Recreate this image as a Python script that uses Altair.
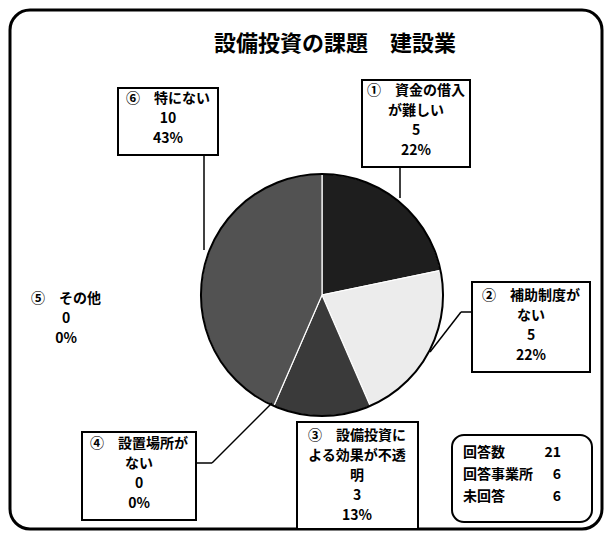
import altair as alt
import pandas as pd

# ---------------- data ----------------
title_text = "設備投資の課題　建設業"
categories = ["①　資金の借入\nが難しい", "②　補助制度が\nない", "③　設備投資に\nよる効果が不透\n明",
              "④　設置場所が\nない", "⑤　その他", "⑥　特にない"]
counts = [5, 5, 3, 0, 0, 10]
percents = ["22%", "22%", "13%", "0%", "0%", "43%"]
summary_labels = ["回答数", "回答事業所", "未回答"]
summary_values = ["21", "6", "6"]

# ---------------- styles / layout ----------------
slice_colors = ["#1e1e1e", "#ececec", "#3a3a3a", "#999999", "#bbbbbb", "#525252"]
FONT = "Noto Sans CJK JP"
CX, CY, R = 322, 295, 121          # pie centre / radius in reference pixels
# label boxes: (x1, x2, y1, y2, text centre x, first line centre y); None box = no border
label_layout = [
    (362, 470, 80, 167, 416, 92),
    (472, 590, 282, 372, 531, 297),
    (297, 418, 422, 529, 357, 437),
    (82, 196, 432, 520, 139, 445),
    (None, None, None, None, 66, 300),
    (118, 218, 88, 155, 168, 100),
]
leaders = [  # x, y, x2, y2
    (400, 167, 400, 198),
    (472, 312, 461, 312),
    (461, 312, 430, 352),
    (196, 463, 212, 463),
    (212, 463, 272, 403),
    (204, 155, 204, 250),
]

xs = alt.Scale(domain=[8, 604])
ys = alt.Scale(domain=[8, 531], reverse=True)

def X(f):
    return alt.X(f, type="quantitative", scale=xs, axis=None)

def Y(f):
    return alt.Y(f, type="quantitative", scale=ys, axis=None)

# ---------------- pie ----------------
pie_df = pd.DataFrame({"cat": categories, "count": counts, "idx": range(len(categories))})
pie = alt.Chart(pie_df).transform_filter("datum.count > 0").mark_arc(
    outerRadius=R, stroke="white", strokeWidth=1.2
).encode(
    theta=alt.Theta("count:Q", stack=True),
    order=alt.Order("idx:Q"),
    color=alt.Color("cat:N", scale=alt.Scale(domain=categories, range=slice_colors), legend=None),
    x=alt.value(CX - 8), y=alt.value(CY - 8),
)
ring = alt.Chart(pd.DataFrame({"v": [1]})).mark_arc(
    outerRadius=R, fillOpacity=0, stroke="black", strokeWidth=2
).encode(theta=alt.value(0), theta2=alt.value(6.2832), x=alt.value(CX - 8), y=alt.value(CY - 8))

# ---------------- frame & title ----------------
frame = alt.Chart(pd.DataFrame({"x": [10], "x2": [602], "y": [10], "y2": [529]})).mark_rect(
    fillOpacity=0, stroke="black", strokeWidth=3, cornerRadius=20
).encode(x=X("x"), x2="x2", y=Y("y"), y2="y2")

title = alt.Chart(pd.DataFrame({"x": [335], "y": [44], "t": [title_text]})).mark_text(
    font=FONT, fontSize=22, fontWeight="bold", align="center", baseline="middle", color="black"
).encode(x=X("x"), y=Y("y"), text="t:N")

# ---------------- label boxes ----------------
box_rows = [dict(x=l[0], x2=l[1], y=l[2], y2=l[3]) for l in label_layout if l[0] is not None]
boxes = alt.Chart(pd.DataFrame(box_rows)).mark_rect(
    fill="white", stroke="black", strokeWidth=2
).encode(x=X("x"), x2="x2", y=Y("y"), y2="y2")

lab_rows = []
for c, n, p, l in zip(categories, counts, percents, label_layout):
    lab_rows.append(dict(x=l[4], y=l[5] - 8, t=f"{c}\n{n}\n{p}"))
labels = alt.Chart(pd.DataFrame(lab_rows)).mark_text(
    font=FONT, fontSize=14, fontWeight="bold", lineBreak="\n", lineHeight=20,
    align="center", baseline="top", color="black"
).encode(x=X("x"), y=Y("y"), text="t:N")

lead_df = pd.DataFrame(leaders, columns=["x", "y", "x2", "y2"])
lead = alt.Chart(lead_df).mark_rule(color="black", strokeWidth=1.5).encode(
    x=X("x"), y=Y("y"), x2="x2", y2="y2"
)

# ---------------- summary box ----------------
sum_box = alt.Chart(pd.DataFrame({"x": [452], "x2": [592], "y": [435], "y2": [522]})).mark_rect(
    fill="white", stroke="black", strokeWidth=2, cornerRadius=12
).encode(x=X("x"), x2="x2", y=Y("y"), y2="y2")
sum_df = pd.DataFrame({"lab": summary_labels, "val": summary_values,
                       "xl": [463] * 3, "xr": [561] * 3, "y": [453, 475, 497]})
sum_lab = alt.Chart(sum_df).mark_text(font=FONT, fontSize=14, fontWeight="bold",
                                      align="left", baseline="middle").encode(
    x=X("xl"), y=Y("y"), text="lab:N")
sum_val = alt.Chart(sum_df).mark_text(font=FONT, fontSize=14, fontWeight="bold",
                                      align="right", baseline="middle").encode(
    x=X("xr"), y=Y("y"), text="val:N")

chart = alt.layer(
    frame, title, pie, ring, lead, boxes, labels, sum_box, sum_lab, sum_val
).properties(
    width=596, height=523, padding=0, autosize=alt.AutoSizeParams(type="none"),
    background="white"
).configure_view(strokeWidth=0)

chart.save("out.html", embed_options={"renderer": "svg", "actions": False})
